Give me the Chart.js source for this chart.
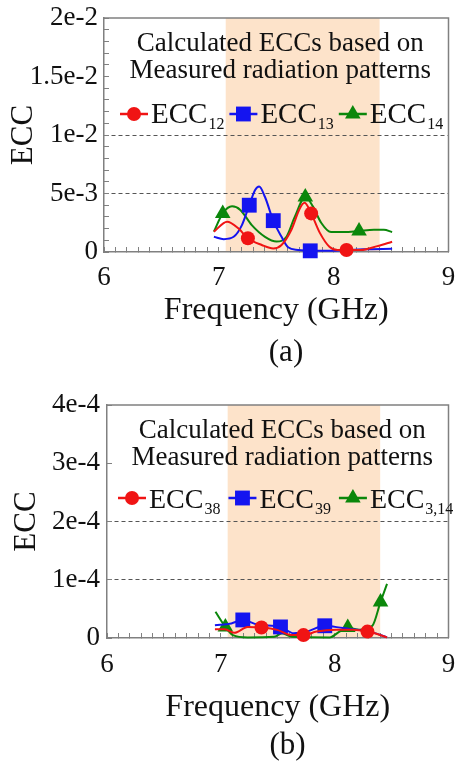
<!DOCTYPE html>
<html>
<head>
<meta charset="utf-8">
<script src="https://cdn.jsdelivr.net/npm/chart.js@4.4.1/dist/chart.umd.min.js"></script>
<style>
  html, body { margin: 0; padding: 0; background: #fff; }
  .box { position: relative; width: 459px; }
  #boxA { height: 375px; }
  #boxB { height: 386px; }
  .warm { position: absolute; left: -999px; top: 0; font: 27px 'Liberation Serif', serif; }
</style>
</head>
<body>
<span class="warm">Frequency 0123456789</span>
<div class="box" id="boxA"><canvas id="chartA"></canvas></div>
<div class="box" id="boxB"><canvas id="chartB"></canvas></div>
<script>
// ===========================
// DATA
// ===========================

// shared frequency axis
const freqTicks = [6, 7, 8, 9];
const freqTickLabels = ["6", "7", "8", "9"];
const bandGHz = [7.06, 8.40];
const noteLines = ["Calculated ECCs based on", "Measured radiation patterns"];

// (a) y axis
const eccTicksA = [0, 0.005, 0.01, 0.015, 0.02];
const eccTickLabelsA = ["0", "5e-3", "1e-2", "1.5e-2", "2e-2"];
const dashedA = [0.005, 0.01];

// (a) ECC12
const ecc12Freq = [6.957, 7.072, 7.172, 7.253, 7.374, 7.474, 7.546, 7.632, 7.704, 7.747, 7.804, 7.876, 7.963, 8.034, 8.112, 8.236, 8.38, 8.509];
const ecc12Val = [0.00174, 0.00259, 0.0020, 0.00117, 0.0006, 0.0003, 0.0006, 0.0019, 0.0037, 0.0042, 0.0033, 0.0017, 0.00045, 0.00017, 0.00017, 0.00017, 0.0005, 0.00088];
const ecc12MarkFreq = [7.253, 7.804, 8.112];
const ecc12MarkVal = [0.00117, 0.0033, 0.00017];

// (a) ECC13
const ecc13Freq = [6.957, 7.043, 7.129, 7.201, 7.265, 7.316, 7.351, 7.402, 7.474, 7.546, 7.603, 7.69, 7.796, 7.977, 8.264, 8.509];
const ecc13Val = [0.0013, 0.0011, 0.0013, 0.0023, 0.0040, 0.0053, 0.0056, 0.0047, 0.00268, 0.0013, 0.0004, 0.00017, 0.0001, 0.0001, 0.00023, 0.00028];
const ecc13MarkFreq = [7.265, 7.474, 7.796];
const ecc13MarkVal = [0.0040, 0.00268, 0.0001];

// (a) ECC14
const ecc14Freq = [6.957, 7.034, 7.115, 7.187, 7.287, 7.402, 7.503, 7.589, 7.661, 7.753, 7.819, 7.891, 7.977, 8.092, 8.221, 8.351, 8.437, 8.509];
const ecc14Val = [0.00174, 0.0033, 0.0039, 0.0036, 0.0023, 0.0013, 0.0009, 0.0013, 0.003, 0.0047, 0.0039, 0.0025, 0.0017, 0.0017, 0.0018, 0.0019, 0.0019, 0.0017];
const ecc14MarkFreq = [7.034, 7.753, 8.221];
const ecc14MarkVal = [0.0033, 0.0047, 0.0018];

// (b) y axis
const eccTicksB = [0, 0.0001, 0.0002, 0.0003, 0.0004];
const eccTickLabelsB = ["0", "1e-4", "2e-4", "3e-4", "4e-4"];
const dashedB = [0.0001, 0.0002];

// (b) ECC38
const ecc38Freq = [6.948, 7.035, 7.121, 7.236, 7.357, 7.495, 7.625, 7.726, 7.841, 8.014, 8.158, 8.288, 8.374, 8.46];
const ecc38Val = [0.15e-4, 0.15e-4, 0.09e-4, 0.19e-4, 0.18e-4, 0.14e-4, 0.05e-4, 0.05e-4, 0.11e-4, 0.14e-4, 0.14e-4, 0.11e-4, 0.07e-4, 0.01e-4];
const ecc38MarkFreq = [7.357, 7.726, 8.288];
const ecc38MarkVal = [0.18e-4, 0.05e-4, 0.11e-4];

// (b) ECC39
const ecc39Freq = [6.948, 7.092, 7.193, 7.322, 7.524, 7.64, 7.755, 7.913, 8.072, 8.245, 8.36, 8.46];
const ecc39Val = [0.22e-4, 0.25e-4, 0.31e-4, 0.23e-4, 0.19e-4, 0.08e-4, 0.11e-4, 0.21e-4, 0.17e-4, 0.13e-4, 0.08e-4, 0.01e-4];
const ecc39MarkFreq = [7.193, 7.524, 7.913];
const ecc39MarkVal = [0.31e-4, 0.19e-4, 0.21e-4];

// (b) ECC3,14
const ecc314Freq = [6.953, 7.04, 7.106, 7.236, 7.467, 7.538, 7.625, 7.956, 8.042, 8.115, 8.215, 8.331, 8.403, 8.46];
const ecc314Val = [0.45e-4, 0.19e-4, 0.05e-4, 0.01e-4, 0.02e-4, 0.08e-4, 0.02e-4, 0.01e-4, 0.11e-4, 0.18e-4, 0.14e-4, 0.21e-4, 0.62e-4, 0.93e-4];
const ecc314MarkFreq = [7.04, 8.115, 8.403];
const ecc314MarkVal = [0.19e-4, 0.18e-4, 0.62e-4];

// ===========================
// STYLE
// ===========================
const FONT = "'Liberation Serif', serif";
const RED = "#f01414";
const BLUE = "#1414f0";
const GREEN = "#0b870b";
const FRAME = "#808080";

Chart.defaults.font.family = FONT;
Chart.defaults.color = "#111";

const pts = (xs, ys) => xs.map((x, i) => ({ x: x, y: ys[i] }));
const near = (v, list) => list.findIndex(t => Math.abs(v - t) < 1e-9);

// curve + marker datasets for one series
function series(freq, val, mFreq, mVal, color, style, radius) {
    return [
        { data: pts(mFreq, mVal), showLine: false, pointStyle: style, pointRadius: radius,
          backgroundColor: color, borderColor: color, pointBorderWidth: 0, clip: false },
        { data: pts(freq, val), borderColor: color, borderWidth: 2, pointRadius: 0,
          tension: 0.4, cubicInterpolationMode: "monotone", fill: false, clip: false }
    ];
}

// band, frame, note, legend and caption
const decorPlugin = {
    id: "decor",
    beforeDraw(chart, args, o) {
        const ca = chart.chartArea, x = chart.scales.x, ctx = chart.ctx;
        const x0 = x.getPixelForValue(o.band[0]), x1 = x.getPixelForValue(o.band[1]);
        ctx.save();
        ctx.fillStyle = "#fde3ca";
        ctx.fillRect(x0, ca.top, x1 - x0, ca.bottom - ca.top);
        ctx.restore();
    },
    beforeDatasetsDraw(chart) {
        const ca = chart.chartArea, ctx = chart.ctx;
        ctx.save();
        ctx.strokeStyle = FRAME;
        ctx.lineWidth = 1.5;
        ctx.beginPath();
        ctx.moveTo(ca.left, ca.top);
        ctx.lineTo(ca.right, ca.top);
        ctx.lineTo(ca.right, ca.bottom);
        ctx.stroke();
        ctx.restore();
    },
    afterDatasetsDraw(chart, args, o) {
        const ca = chart.chartArea, ctx = chart.ctx;
        ctx.save();
        ctx.fillStyle = "#111";
        ctx.textBaseline = "alphabetic";
        // note
        ctx.font = "27px " + FONT;
        ctx.textAlign = "center";
        const cx = (ca.left + ca.right) / 2 + o.noteDx;
        o.note.forEach((t, i) => ctx.fillText(t, cx, ca.top + o.noteY[i]));
        // legend
        ctx.textAlign = "left";
        let lx = ca.left + o.legendX;
        const my = ca.top + o.markY, by = ca.top + o.baseY;
        o.legend.forEach(e => {
            ctx.strokeStyle = e.color;
            ctx.lineWidth = 2.5;
            ctx.beginPath();
            ctx.moveTo(lx, my);
            ctx.lineTo(lx + 28, my);
            ctx.stroke();
            ctx.fillStyle = e.color;
            Chart.helpers.drawPoint(ctx, { pointStyle: e.style, radius: e.radius, rotation: 0, borderWidth: 0 }, lx + 14, my);
            ctx.fillStyle = "#111";
            ctx.font = o.labelSize + "px " + FONT;
            ctx.fillText(e.name, lx + 31, by);
            const w = ctx.measureText(e.name).width;
            ctx.font = "16px " + FONT;
            ctx.fillText(e.sub, lx + 31 + w + 1, by + 6);
            lx = lx + 31 + w + 1 + ctx.measureText(e.sub).width + o.gap;
        });
        // caption
        ctx.font = "31px " + FONT;
        ctx.textAlign = "center";
        ctx.textBaseline = "middle";
        ctx.fillText(o.caption, ca.left + o.captionX, ca.bottom + o.captionY);
        ctx.restore();
    }
};

function makeChart(id, cfg) {
    return new Chart(document.getElementById(id), {
        type: "line",
        data: { datasets: cfg.datasets },
        plugins: [decorPlugin],
        options: {
            responsive: true,
            maintainAspectRatio: false,
            animation: false,
            events: [],
            layout: { padding: { top: cfg.top, right: cfg.right, bottom: 0, left: 0 } },
            plugins: {
                legend: { display: false },
                tooltip: { enabled: false },
                decor: cfg.decor
            },
            scales: {
                x: {
                    type: "linear",
                    min: 6, max: 9,
                    afterFit: s => { s.height = cfg.xHeight; s.paddingLeft = 0; s.paddingRight = 0; },
                    border: { color: FRAME, width: 1.5 },
                    grid: { drawOnChartArea: false, tickLength: -5, tickColor: FRAME, tickWidth: 1 },
                    ticks: {
                        stepSize: 0.1, maxTicksLimit: 100, autoSkip: false, maxRotation: 0,
                        padding: cfg.xPad, color: "#111", font: { family: FONT, size: 27 },
                        callback: v => { const i = near(v, freqTicks); return i < 0 ? "" : freqTickLabels[i]; }
                    },
                    title: {
                        display: true, text: "Frequency (GHz)", color: "#111",
                        font: { family: FONT, size: 32, lineHeight: 1.2 },
                        padding: { top: 0, bottom: cfg.titlePad }
                    }
                },
                y: {
                    type: "linear",
                    min: 0, max: cfg.yMax,
                    afterFit: s => { s.width = cfg.yWidth; s.paddingTop = 0; s.paddingBottom = 0; },
                    border: { color: FRAME, width: 1.5, dash: [4, 3] },
                    grid: {
                        tickLength: -5, tickColor: FRAME, tickWidth: 1, lineWidth: 1,
                        color: c => (c.tick && near(c.tick.value, cfg.dashed) >= 0) ? "#555" : "rgba(0,0,0,0)"
                    },
                    ticks: {
                        stepSize: cfg.yStep, maxTicksLimit: 100, autoSkip: false,
                        padding: cfg.yPad, color: "#111", font: { family: FONT, size: 27 },
                        callback: v => { const i = near(v, cfg.yTicks); return i < 0 ? "" : cfg.yLabels[i]; }
                    },
                    title: {
                        display: true, text: "ECC", color: "#111",
                        font: { family: FONT, size: 31, lineHeight: 1.2 },
                        padding: { top: cfg.yTitlePad, bottom: 0 }
                    }
                }
            }
        }
    });
}

const chartA = makeChart("chartA", {
    datasets: [].concat(
        series(ecc12Freq, ecc12Val, ecc12MarkFreq, ecc12MarkVal, RED, "circle", 7),
        series(ecc13Freq, ecc13Val, ecc13MarkFreq, ecc13MarkVal, BLUE, "rect", 10.5),
        series(ecc14Freq, ecc14Val, ecc14MarkFreq, ecc14MarkVal, GREEN, "triangle", 9)
    ),
    top: 18, right: 7, xHeight: 123, yWidth: 104,
    xPad: 15, yPad: 11, titlePad: 45, yTitlePad: 5,
    yMax: 0.02, yStep: 0.001, yTicks: eccTicksA, yLabels: eccTickLabelsA, dashed: dashedA,
    decor: {
        band: bandGHz, note: noteLines, noteDx: 4, noteY: [33, 60],
        legendX: 16, markY: 96, baseY: 105, labelSize: 29, gap: 5,
        legend: [
            { name: "ECC", sub: "12", color: RED, style: "circle", radius: 7 },
            { name: "ECC", sub: "13", color: BLUE, style: "rect", radius: 10.5 },
            { name: "ECC", sub: "14", color: GREEN, style: "triangle", radius: 9 }
        ],
        caption: "(a)", captionX: 182, captionY: 101
    }
});

const chartB = makeChart("chartB", {
    datasets: [].concat(
        series(ecc38Freq, ecc38Val, ecc38MarkFreq, ecc38MarkVal, RED, "circle", 7),
        series(ecc39Freq, ecc39Val, ecc39MarkFreq, ecc39MarkVal, BLUE, "rect", 10.5),
        series(ecc314Freq, ecc314Val, ecc314MarkFreq, ecc314MarkVal, GREEN, "triangle", 9)
    ),
    top: 30, right: 5, xHeight: 123, yWidth: 107,
    xPad: 16, yPad: 12, titlePad: 34, yTitlePad: 8,
    yMax: 0.0004, yStep: 0.0001, yTicks: eccTicksB, yLabels: eccTickLabelsB, dashed: dashedB,
    decor: {
        band: bandGHz, note: noteLines, noteDx: 4.5, noteY: [33, 60],
        legendX: 11, markY: 93, baseY: 103, labelSize: 28, gap: 8,
        legend: [
            { name: "ECC", sub: "38", color: RED, style: "circle", radius: 7 },
            { name: "ECC", sub: "39", color: BLUE, style: "rect", radius: 10.5 },
            { name: "ECC", sub: "3,14", color: GREEN, style: "triangle", radius: 9 }
        ],
        caption: "(b)", captionX: 180.5, captionY: 108
    }
});

// redraw once the serif face is surely in use
document.fonts.load("27px 'Liberation Serif'").then(() => {
    chartA.update();
    chartB.update();
});
</script>
</body>
</html>
